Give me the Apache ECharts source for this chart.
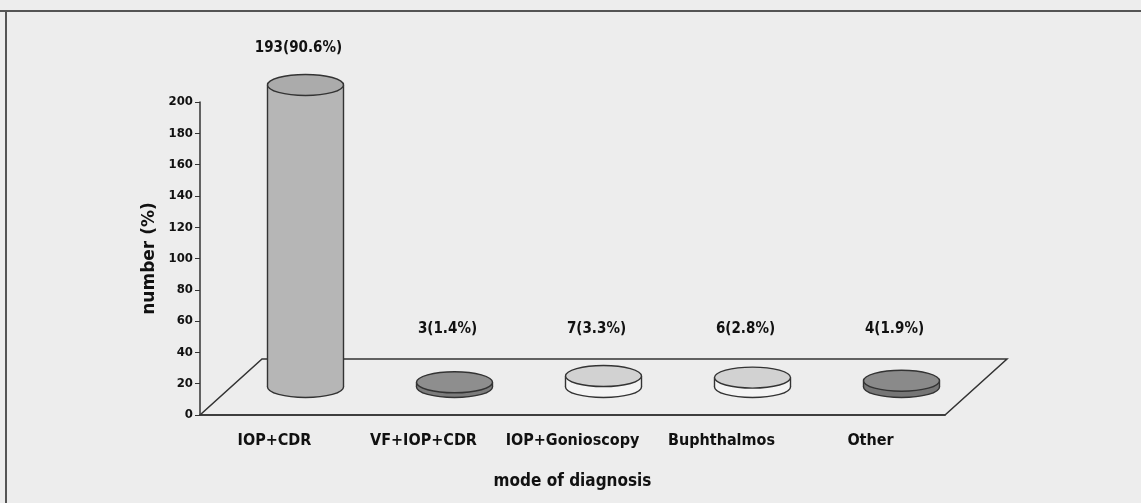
<!DOCTYPE html>
<html>
<head>
<meta charset="utf-8">
<script src="https://cdn.jsdelivr.net/npm/echarts@6/dist/echarts.min.js"></script>
<style>
  html, body { margin: 0; padding: 0; background: #ededed; }
  #chart { width: 1141px; height: 503px; }
</style>
</head>
<body>
<div id="chart"></div>
<script>
// data
var categories = ['IOP+CDR', 'VF+IOP+CDR', 'IOP+Gonioscopy', 'Buphthalmos', 'Other'];
var counts = [193, 3, 7, 6, 4];
var percents = [90.6, 1.4, 3.3, 2.8, 1.9];
var yTicks = [0, 200, 20];   // min, max, interval

var NARROW = "'DejaVu Sans Condensed', 'Liberation Sans', sans-serif";
var topColors = ['#ababab', '#8e8e8e', '#d2d2d2', '#d2d2d2', '#8a8a8a'];
var sideColors = ['#b6b6b6', '#7c7c7c', '#f4f4f4', '#f4f4f4', '#767676'];

// half of the floor depth
var DX = 31, DY = -28;

var myChart = echarts.init(document.getElementById('chart'));

var options = {
  backgroundColor: '#ededed',
  animation: false,
  graphic: [
    { type: 'line', shape: { x1: 0, y1: 11, x2: 1141, y2: 11 }, style: { stroke: '#555', lineWidth: 2 } },
    { type: 'line', shape: { x1: 6, y1: 11, x2: 6, y2: 503 }, style: { stroke: '#555', lineWidth: 2 } }
  ],
  grid: { left: 200, right: 196, top: 102, bottom: 88 },
  xAxis: {
    type: 'category',
    data: categories,
    name: 'mode of diagnosis',
    nameLocation: 'middle',
    nameGap: 58,
    nameTextStyle: { fontFamily: NARROW, fontWeight: 'bold', fontSize: 17, color: '#111' },
    axisLine: { lineStyle: { color: '#333', width: 1.5 } },
    axisTick: { length: 6, lineStyle: { color: '#333' } },
    axisLabel: { interval: 0, fontFamily: NARROW, fontWeight: 'bold', fontSize: 16, color: '#111', margin: 18 }
  },
  yAxis: {
    type: 'value',
    min: yTicks[0],
    max: yTicks[1],
    interval: yTicks[2],
    name: 'number (%)',
    nameLocation: 'middle',
    nameGap: 33,
    nameTextStyle: { fontFamily: "'DejaVu Sans', sans-serif", fontWeight: 'bold', fontSize: 17, color: '#111' },
    axisLine: { show: true, lineStyle: { color: '#333', width: 1.5 } },
    axisTick: { show: true, length: 5, lineStyle: { color: '#333' } },
    axisLabel: { fontFamily: NARROW, fontWeight: 'bold', fontSize: 13, color: '#111', margin: 7 },
    splitLine: { show: false }
  },
  series: [
    {
      // floor of the 3D plot
      type: 'custom',
      z: 1,
      silent: true,
      data: [0],
      renderItem: function (params, api) {
        var cs = params.coordSys;
        var x0 = cs.x, y0 = cs.y + cs.height, x1 = cs.x + cs.width;
        return {
          type: 'polygon',
          shape: { points: [[x0, y0], [x1, y0], [x1 + DX * 2, y0 + DY * 2], [x0 + DX * 2, y0 + DY * 2]] },
          style: { fill: 'none', stroke: '#333', lineWidth: 1.5 }
        };
      }
    },
    {
      // cylinders
      type: 'custom',
      z: 2,
      data: counts,
      renderItem: function (params, api) {
        var i = params.dataIndex;
        var v = api.value(0);
        var p0 = api.coord([i, 0]);
        var p1 = api.coord([i, v]);
        var rx = 38, ry = 10.5;
        var cx = p0[0] + DX, by = p0[1] + DY, ty = p1[1] + DY;
        var labelY = Math.min(p1[1] - 65, p0[1] - 86);
        return {
          type: 'group',
          children: [
            { type: 'ellipse', shape: { cx: cx, cy: by, rx: rx, ry: ry },
              style: { fill: sideColors[i], stroke: '#333', lineWidth: 1.4 } },
            { type: 'rect', shape: { x: cx - rx, y: ty, width: rx * 2, height: by - ty },
              style: { fill: sideColors[i] } },
            { type: 'line', shape: { x1: cx - rx, y1: ty, x2: cx - rx, y2: by },
              style: { stroke: '#333', lineWidth: 1.4 } },
            { type: 'line', shape: { x1: cx + rx, y1: ty, x2: cx + rx, y2: by },
              style: { stroke: '#333', lineWidth: 1.4 } },
            { type: 'ellipse', shape: { cx: cx, cy: ty, rx: rx, ry: ry },
              style: { fill: topColors[i], stroke: '#333', lineWidth: 1.4 } },
            { type: 'text', x: cx - 7, y: labelY,
              style: { text: counts[i] + '(' + percents[i] + '%)', fill: '#111',
                font: 'bold 15px ' + NARROW, align: 'center', verticalAlign: 'middle' } }
          ]
        };
      },
      encode: { x: -1, y: 0 }
    }
  ]
};

myChart.setOption(options);
</script>
</body>
</html>
